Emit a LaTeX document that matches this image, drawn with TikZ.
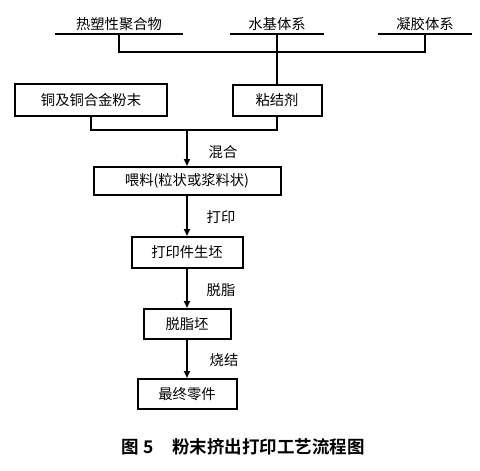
\documentclass[tikz,border=0pt]{standalone}
\usepackage{fontspec}
\setmainfont{Noto Sans CJK SC}
\newfontfamily\capfont{Noto Sans CJK SC Bold}
\usetikzlibrary{arrows.meta}
\begin{document}
\begin{tikzpicture}[x=1pt,y=-1pt,
  line width=2pt,
  txt/.style={inner sep=0pt,font=\fontsize{14.3}{15}\selectfont},
  topl/.style={txt,minimum height=18pt},
  bx/.style={txt,draw,line width=2pt},
  arr/.style={-{Triangle[length=7pt,width=6pt]}}]
\useasboundingbox (0,0) rectangle (480,471);
% top labels with underline
\node[topl,minimum width=126pt] (t1) at (119,24) {热塑性聚合物};
\node[topl,minimum width=92pt] (t2) at (277,24) {水基体系};
\node[topl,minimum width=92pt] (t3) at (425,24) {凝胶体系};
\draw (t1.south west) -- (t1.south east);
\draw (t2.south west) -- (t2.south east);
\draw (t3.south west) -- (t3.south east);
\coordinate (j1) at (119,52);
\coordinate (j3) at (425,52);
% boxes
\node[bx,minimum width=152pt,minimum height=32pt] (b1) at (91,100) {铜及铜合金粉末};
\node[bx,minimum width=89pt,minimum height=31pt] (b2) at (277,100.5) {粘结剂};
\node[bx,minimum width=187pt,minimum height=28pt] (f) at (187,181) {喂料(粒状或浆料状)};
\node[bx,minimum width=111pt,minimum height=31pt] (p) at (187,252.5) {打印件生坯};
\node[bx,minimum width=87pt,minimum height=30pt] (d) at (187,324) {脱脂坯};
\node[bx,minimum width=99pt,minimum height=30pt] (e) at (187,394) {最终零件};
% connectors at top
\draw (t1.south) -- (j1) -- (j3) -- (t3.south);
\draw (t2.south) -- (b2.north);
\coordinate (k1) at (91,130);
\coordinate (k2) at (277,130);
\coordinate (k0) at (187,130);
\draw (b1.south) -- (k1) -- (k2) -- (b2.south);
\draw[arr] (k0) -- (f.north);
\draw[arr] (f.south) -- (p.north);
\draw[arr] (p.south) -- (d.north);
\draw[arr] (d.south) -- (e.north);
% step labels
\node[txt] (l1) at (223,152) {混合};
\node[txt] (l2) at (221,217) {打印};
\node[txt] (l3) at (221,290) {脱脂};
\node[txt] (l4) at (224,360) {烧结};
% caption
\node[inner sep=0pt,font=\capfont\fontsize{17.5}{19}\selectfont] (cap) at (243,447) {图\hspace{5pt}5\hspace{18pt}粉末挤出打印工艺流程图};
\end{tikzpicture}
\end{document}
